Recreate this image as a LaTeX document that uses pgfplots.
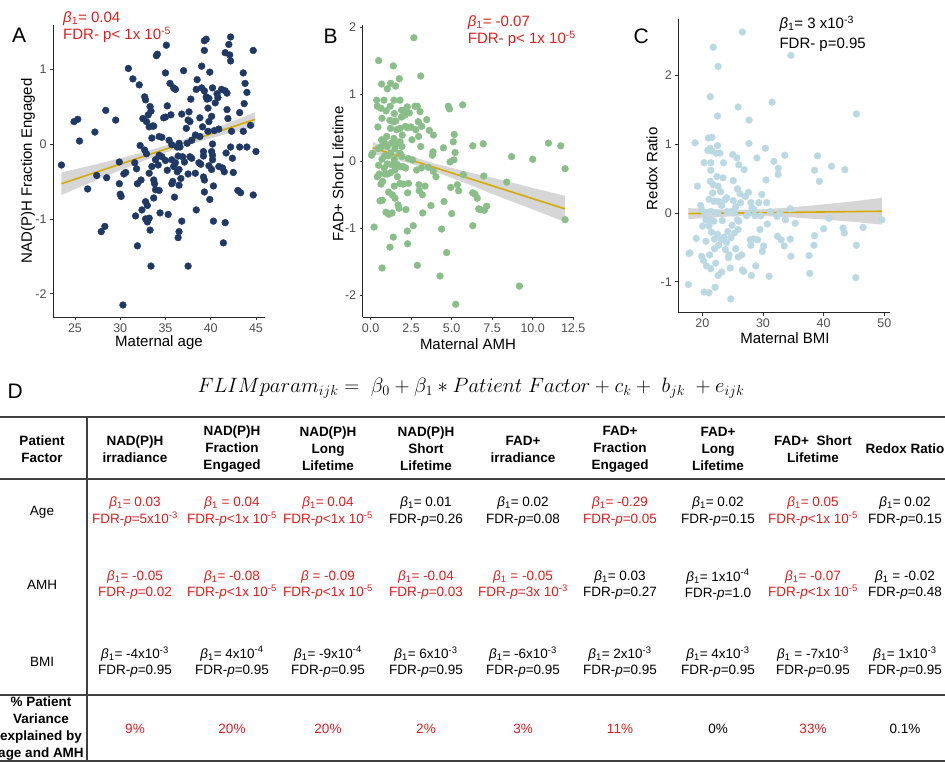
\documentclass[border=0pt]{standalone}
\usepackage{pgfplots}
\pgfplotsset{compat=1.18}
\usepackage{fontspec}
\setmainfont{Liberation Sans}
\definecolor{navy}{RGB}{31,56,100}
\definecolor{sage}{RGB}{137,190,137}
\definecolor{pale}{RGB}{187,217,227}
\definecolor{gold}{RGB}{214,170,0}
\definecolor{band}{RGB}{153,153,153}
\definecolor{fdrred}{RGB}{220,30,30}
\definecolor{ticklab}{RGB}{77,77,77}
\newcommand{\bet}{\textit{β}\textsubscript{1}}
\newcommand{\sci}[1]{\textsuperscript{#1}}
\newcommand{\cell}[5]{\node[align=center, text=#3, font=\fontsize{13.5}{16.5}\selectfont] at (#1, 762-#2) {#4\\#5};}

\pgfplotsset{
  panel/.style={
    scale only axis,
    axis x line*=bottom, axis y line*=left,
    axis line style={line width=0.8pt, black!85},
    tick pos=left,
    tick align=outside,
    major tick length=3pt,
    tick style={black!80, line width=0.7pt},
    tick label style={font=\fontsize{12.5}{14}\selectfont, text=ticklab},
    label style={font=\fontsize{15}{17}\selectfont},
    /pgf/number format/assume math mode=true,
  },
  pts/.style={only marks, mark=*, mark size=3.4pt, color=#1},
  se/.style={fill=band, fill opacity=0.4, draw=none},
  fit/.style={gold, line width=1.6pt},
}

\begin{document}
\begin{tikzpicture}[x=1pt,y=1pt]
\path[use as bounding box] (0,0) rectangle (945,762);

% ---- panel A
\begin{axis}[panel, at={(53pt,445pt)}, anchor=south west, width=212pt, height=292pt,
  xmin=22.57, xmax=46.0, ymin=-2.31, ymax=1.59,
  xtick={25,30,35,40,45}, ytick={-2,-1,0,1},
  xlabel={Maternal age}, ylabel={NAD(P)H Fraction Engaged},
  xlabel style={at={(axis description cs:0.5,-0.087)}, anchor=center},
  ylabel style={at={(axis description cs:-0.118,0.5)}, anchor=center}]
\addplot[pts=navy] coordinates {(23.5,-0.28)(24.9,0.30)(25.3,0.33)(25.5,0.04)(26.4,-0.60)(27.2,0.16)(27.4,-0.42)(28.4,0.45)(28.5,-0.45)(27.9,-1.17)(28.3,-1.10)(29.5,0.32)(29.9,-0.24)(29.9,-0.53)(30.0,-0.67)(30.1,-0.70)(30.3,-2.15)(30.9,1.01)(30.4,-0.40)(30.6,-0.38)(31.4,0.87)(31.6,-0.25)(31.7,-0.96)(31.9,-1.36)(31.9,-0.53)(32.1,0.79)(32.2,-0.02)(31.8,-0.33)(32.3,-0.48)(32.4,-0.88)(32.5,0.34)(32.7,0.63)(32.8,0.59)(32.9,0.30)(33.1,0.39)(32.7,-0.08)(32.9,-0.13)(32.8,-0.77)(33.0,-0.82)(32.8,-1.00)(33.0,-1.04)(33.2,0.23)(33.2,-0.99)(33.3,-1.15)(33.4,-1.63)(33.3,0.50)(33.4,0.44)(33.5,0.08)(33.6,0.24)(33.7,0.24)(33.5,-0.30)(33.7,-0.48)(33.8,-0.53)(33.9,-0.61)(33.7,-0.72)(34.0,1.18)(34.1,1.20)(34.3,-0.15)(34.2,-0.28)(34.3,-0.62)(34.3,0.10)(34.4,-0.92)(34.6,0.09)(34.6,-0.17)(34.8,0.35)(35.0,0.36)(35.0,0.95)(35.1,1.32)(35.2,0.51)(35.0,-0.22)(35.2,-0.35)(35.3,-0.94)(35.4,0.05)(35.5,0.81)(35.6,0.39)(35.7,-0.01)(35.7,-0.21)(35.7,-0.53)(35.8,-0.50)(35.9,-0.30)(35.9,0.75)(36.1,0.73)(36.0,-0.71)(36.1,-0.25)(36.3,-0.04)(36.4,-0.16)(36.3,-0.37)(36.5,-0.34)(36.5,0.01)(36.6,-0.04)(36.5,-0.55)(36.7,-0.46)(36.8,-1.03)(36.5,-1.17)(36.4,-1.25)(36.8,0.40)(37.0,0.98)(36.9,-0.17)(37.1,-0.24)(37.3,0.21)(37.4,0.01)(37.5,-0.40)(37.5,0.32)(37.6,0.43)(37.7,0.30)(37.5,-1.63)(37.8,0.60)(37.7,-0.17)(37.9,-0.19)(37.9,0.05)(38.4,0.73)(38.5,0.86)(38.3,0.12)(38.3,-0.39)(38.4,-0.88)(38.7,-0.25)(38.8,0.35)(38.8,0.10)(38.9,-0.27)(39.0,1.04)(39.0,0.75)(39.1,0.23)(39.2,-0.10)(39.2,-0.16)(39.2,-0.44)(39.3,-0.48)(39.3,-0.64)(39.3,1.25)(39.3,1.38)(39.5,1.40)(39.3,0.71)(39.5,0.63)(39.6,0.60)(39.7,0.48)(39.8,0.30)(39.7,0.17)(39.8,0.61)(39.9,0.96)(39.8,-0.29)(39.9,-0.74)(40.1,0.37)(40.1,-0.10)(40.2,-0.15)(40.2,-0.21)(40.1,-0.34)(40.2,0.75)(40.3,-1.03)(40.3,-0.56)(40.4,0.18)(40.2,0.00)(40.5,0.55)(40.7,0.67)(40.8,0.62)(40.9,0.20)(40.9,-0.30)(41.2,0.73)(41.3,-0.32)(41.4,-1.32)(41.5,-0.37)(41.6,0.71)(41.6,-1.05)(41.7,-0.12)(41.6,1.22)(41.8,0.68)(41.8,0.46)(41.9,0.34)(42.0,1.33)(42.1,1.19)(42.2,1.11)(42.2,1.43)(42.2,-0.04)(42.3,0.17)(42.4,-0.19)(42.5,-0.38)(43.0,-0.62)(43.2,0.42)(43.2,-0.04)(43.3,-0.65)(43.6,0.95)(43.6,0.17)(43.7,0.54)(43.8,0.81)(44.0,0.69)(44.0,-0.04)(44.4,0.25)(44.7,1.25)(44.7,-0.68)(45.0,-0.10)(33.9,-0.21)(33.2,-0.39)};
\addplot[se] coordinates {(23.5,-0.38)(27,-0.28)(30,-0.19)(33,-0.093)(36,0.018)(39,0.143)(42,0.284)(44.9,0.425)(44.9,0.235)(42,0.144)(39,0.043)(36,-0.072)(33,-0.203)(30,-0.35)(27,-0.50)(23.5,-0.68)};
\addplot[fit] coordinates {(23.5,-0.53)(44.9,0.33)};
\end{axis}

% ---- panel B
\begin{axis}[panel, at={(362.7pt,445pt)}, anchor=south west, width=211.3pt, height=292pt,
  xmin=-0.49, xmax=12.55, ymin=-2.32, ymax=2.03,
  xtick={0,2.5,5,7.5,10,12.5}, ytick={-2,-1,0,1,2},
  xticklabel style={/pgf/number format/.cd, fixed, fixed zerofill, precision=1},
  xlabel={Maternal AMH}, ylabel={FAD+ Short Lifetime},
  xlabel style={at={(axis description cs:0.498,-0.092)}, anchor=center},
  ylabel style={at={(axis description cs:-0.117,0.49)}, anchor=center}]
\addplot[pts=sage] coordinates {(0.06,0.09)(0.12,0.12)(0.21,-0.98)(0.37,0.91)(0.41,0.82)(0.49,1.50)(0.45,0.51)(0.49,-0.06)(0.41,-0.23)(0.53,-0.19)(0.58,-0.59)(0.47,0.19)(0.68,1.15)(0.64,0.79)(0.70,0.64)(0.68,0.32)(0.66,0.22)(0.70,0.03)(0.64,-0.34)(0.74,-0.30)(0.72,-0.58)(0.70,-1.59)(0.82,0.91)(0.84,0.28)(0.86,0.08)(0.84,-0.10)(0.88,-0.19)(0.95,-0.76)(0.95,0.75)(1.03,1.08)(0.99,0.37)(1.03,0.22)(1.07,0.08)(1.03,-0.04)(1.05,-0.19)(1.11,-0.46)(1.11,-0.79)(1.19,-1.28)(1.23,1.16)(1.21,0.82)(1.19,0.61)(1.23,0.49)(1.28,0.27)(1.23,0.12)(1.30,-0.05)(1.23,-0.17)(1.34,-0.50)(1.32,-0.77)(1.40,1.42)(1.44,0.91)(1.46,0.71)(1.40,0.59)(1.44,0.34)(1.50,0.19)(1.46,0.03)(1.50,-0.13)(1.46,-0.37)(1.50,-0.55)(1.40,-1.13)(1.54,1.12)(1.56,0.60)(1.60,0.47)(1.65,0.26)(1.65,-0.05)(1.65,-0.23)(1.69,-0.65)(1.75,-0.70)(1.77,1.23)(1.81,0.91)(1.81,0.49)(1.81,0.29)(1.81,0.12)(1.85,-0.08)(1.81,-0.33)(1.91,0.76)(1.91,0.66)(1.95,0.39)(1.93,0.22)(1.93,0.07)(2.02,-0.08)(2.02,-0.34)(2.06,0.76)(2.12,0.69)(2.14,0.52)(2.16,-0.10)(2.18,-0.72)(2.26,0.81)(2.28,0.50)(2.33,0.04)(2.28,-0.47)(2.33,-0.33)(2.26,-1.04)(2.28,-1.23)(2.39,0.72)(2.49,0.51)(2.55,0.32)(2.59,0.02)(2.67,1.84)(2.63,-0.96)(2.74,0.82)(2.78,0.47)(2.84,-0.13)(2.88,0.82)(2.88,-1.55)(2.94,0.59)(2.96,0.37)(2.98,-0.35)(3.00,-0.44)(3.05,0.74)(3.09,1.27)(3.09,0.22)(3.13,-0.10)(3.15,0.52)(3.19,-0.50)(3.21,-0.77)(3.35,-0.37)(3.46,0.62)(3.56,-0.09)(3.62,0.46)(3.72,-0.66)(3.81,0.09)(3.85,0.14)(3.87,0.39)(3.87,-0.15)(4.03,-0.23)(4.28,-1.71)(4.38,-1.01)(4.49,0.20)(4.53,-0.60)(4.69,-1.36)(4.79,0.82)(4.86,0.78)(4.90,-0.01)(4.94,-0.39)(5.00,-0.78)(5.10,0.29)(5.16,0.40)(5.21,0.13)(5.14,0.02)(5.25,-2.13)(5.35,-0.35)(5.43,-0.44)(5.68,0.84)(5.72,-0.20)(6.30,0.23)(6.30,-0.47)(6.30,-0.96)(6.44,-0.49)(6.58,-0.55)(6.67,-0.71)(6.75,-0.72)(6.95,0.26)(6.98,-0.22)(7.02,-0.73)(7.16,-0.67)(8.40,-0.31)(8.70,0.07)(9.18,-1.86)(10.00,0.03)(10.97,0.27)(11.73,0.23)(12.00,-0.11)(12.00,-0.87)};
\addplot[se] coordinates {(0.12,0.29)(1,0.203)(2.5,0.073)(4,-0.037)(6,-0.16)(8,-0.274)(10,-0.397)(12,-0.515)(12,-0.905)(10,-0.717)(8,-0.534)(6,-0.34)(4,-0.157)(2.5,-0.037)(1,0.063)(0.12,0.11)};
\addplot[fit] coordinates {(0.12,0.20)(12,-0.71)};
\end{axis}

% ---- panel C
\begin{axis}[panel, at={(678.3pt,449.3pt)}, anchor=south west, width=211.7pt, height=293.7pt,
  xmin=16.04, xmax=50.94, ymin=-1.45, ymax=2.82,
  xtick={20,30,40,50}, ytick={-1,0,1,2},
  xlabel={Maternal BMI}, ylabel={Redox Ratio},
  xlabel style={at={(axis description cs:0.504,-0.085)}, anchor=center},
  ylabel style={at={(axis description cs:-0.124,0.49)}, anchor=center}]
\addplot[pts=pale] coordinates {(17.7,-1.04)(17.8,-0.59)(17.97,-0.58)(18.8,1.02)(19.0,-0.37)(19.2,0.39)(19.7,0.11)(19.9,0.05)(20.05,-0.19)(19.9,-0.63)(20.2,-0.69)(20.3,-1.15)(20.3,0.73)(20.4,0.0)(20.6,-0.10)(20.6,-0.41)(20.7,-0.77)(20.9,0.91)(21.0,1.09)(21.1,-1.16)(21.1,0.20)(21.1,-0.19)(21.2,-0.61)(21.3,1.69)(21.3,0.94)(21.3,0.46)(21.4,0.62)(21.4,0.73)(21.4,0.02)(21.4,-0.10)(21.5,-0.28)(21.4,-0.81)(21.6,1.10)(21.6,0.90)(21.8,2.41)(21.8,0.41)(21.9,0.17)(21.7,0.29)(21.9,-0.12)(22.0,-0.38)(22.0,-0.52)(22.1,-1.08)(22.2,-0.73)(22.3,0.87)(22.4,0.53)(22.5,1.41)(22.5,0.98)(22.5,0.0)(22.5,-0.31)(22.6,2.13)(22.6,0.39)(22.6,0.17)(22.6,-0.91)(22.7,-0.47)(22.9,0.87)(23.0,0.31)(23.1,-0.39)(23.2,0.11)(23.2,-0.86)(23.3,-0.11)(23.4,0.51)(23.5,0.73)(23.6,-0.35)(23.7,0.19)(23.8,-0.53)(24.0,-0.43)(24.0,0.22)(24.1,0.02)(24.2,-0.27)(24.3,-0.65)(24.4,-0.61)(24.6,-0.80)(24.7,-1.25)(24.7,-0.36)(24.8,0.02)(24.9,-0.18)(25.0,0.85)(25.1,0.47)(25.1,0.18)(25.3,0.0)(25.3,-0.29)(25.5,-0.52)(25.5,0.09)(25.7,0.80)(25.8,0.35)(25.8,-0.10)(25.9,1.54)(26.0,-0.12)(25.9,-0.24)(25.9,-0.64)(26.0,0.70)(26.2,0.28)(26.3,0.15)(26.5,-0.61)(26.6,-0.83)(26.6,2.63)(26.8,-0.85)(26.9,0.63)(27.1,0.24)(27.3,-0.04)(27.5,-0.01)(27.6,0.30)(27.7,1.35)(27.7,1.01)(27.9,-0.39)(28.0,0.15)(28.0,-0.47)(28.1,-0.91)(28.2,0.07)(28.4,-0.38)(28.5,0.05)(28.7,-0.04)(29.0,0.80)(28.8,-0.77)(29.1,-0.39)(29.3,0.15)(29.5,-0.24)(29.6,-0.04)(29.8,0.27)(29.9,-0.56)(30.1,-0.48)(30.4,0.94)(30.5,0.48)(30.6,0.15)(30.7,-0.16)(31.0,-0.92)(31.2,0.02)(31.5,1.61)(31.8,0.75)(32.3,-0.05)(32.4,-0.34)(32.5,0.56)(32.5,0.65)(32.8,0.0)(33.0,-0.39)(33.5,-0.48)(33.6,0.84)(33.7,-0.10)(34.5,0.06)(34.5,-0.38)(34.6,2.29)(34.6,-0.63)(35.3,-0.15)(37.6,-0.62)(37.7,-0.88)(38.4,-0.47)(38.5,-0.33)(38.5,0.62)(39.0,0.83)(39.3,0.46)(40.0,-0.23)(40.9,-0.08)(41.3,0.68)(43.2,-0.22)(43.4,-0.29)(43.5,0.63)(45.3,-0.94)(45.4,-0.47)(45.4,1.44)(46.5,-0.21)(49.6,-0.10)};
\addplot[se] coordinates {(17.7,0.07)(22,0.055)(26,0.045)(30,0.054)(35,0.084)(40,0.125)(45,0.17)(49.6,0.22)(49.6,-0.17)(45,-0.13)(40,-0.095)(35,-0.066)(30,-0.046)(26,-0.045)(22,-0.065)(17.7,-0.09)};
\addplot[fit] coordinates {(17.7,-0.01)(49.6,0.025)};
\end{axis}

% ---- panel letters and annotations
\begin{scope}[every node/.style={anchor=base west, inner sep=0pt}]
\node[font=\fontsize{21}{24}\selectfont] at (12,762-42.7) {A};
\node[font=\fontsize{21}{24}\selectfont] at (323.3,762-43.3) {B};
\node[font=\fontsize{21}{24}\selectfont] at (633.3,762-44) {C};
\node[font=\fontsize{21}{24}\selectfont] at (7.3,762-398.3) {D};
\node[font=\fontsize{15}{18}\selectfont, text=fdrred] at (63,762-22.7) {\bet= 0.04};
\node[font=\fontsize{15}{18}\selectfont, text=fdrred] at (63,762-39.3) {FDR- p< 1x 10\sci{-5}};
\node[font=\fontsize{15}{18}\selectfont, text=fdrred] at (467.7,762-26.7) {\bet= -0.07};
\node[font=\fontsize{15}{18}\selectfont, text=fdrred] at (467.7,762-43.3) {FDR- p< 1x 10\sci{-5}};
\node[font=\fontsize{15}{18}\selectfont] at (779.3,762-28.3) {\bet= 3 x10\sci{-3}};
\node[font=\fontsize{15}{18}\selectfont] at (779.3,762-48.3) {FDR- p=0.95};
\end{scope}

% ---- model equation
\node[font=\fontsize{21}{25}\selectfont] at (471,762-388)
  {$FLIMparam_{ijk} =\ \beta_0 + \beta_1 * Patient\ Factor + c_k +\ b_{jk}\ + e_{ijk}$};

% ---- table rules
\begin{scope}[line width=1.2pt, black!75]
\draw (0,762-417) -- (945,762-417);
\draw (0,762-479) -- (945,762-479);
\draw (0,762-695) -- (945,762-695);
\draw (0,762-761) -- (945,762-761);
\draw (87,762-417) -- (87,762-761);
\end{scope}

% ---- header
\begin{scope}[every node/.style={align=center, font=\bfseries\fontsize{13.5}{17}\selectfont}]
\node at (42,762-449.5) {Patient\\Factor};
\node at (135,762-449.5) {NAD(P)H\\irradiance};
\node at (232,762-449) {NAD(P)H\\Fraction\\Engaged};
\node at (328,762-449) {NAD(P)H\\Long\\Lifetime};
\node at (426,762-449) {NAD(P)H\\Short\\Lifetime};
\node at (523,762-449.5) {FAD+\\irradiance};
\node at (620,762-449) {FAD+\\Fraction\\Engaged};
\node at (718,762-449) {FAD+\\Long\\Lifetime};
\node at (813,762-449.5) {FAD+~~Short\\Lifetime};
\node at (905,762-449) {Redox Ratio};
\node at (41,762-728.5) {\%~Patient\\Variance\\explained by\\age and AMH};
\end{scope}

% ---- row labels
\begin{scope}[every node/.style={font=\fontsize{13.5}{16.5}\selectfont}]
\node at (42,762-512) {Age};
\node at (42,762-585) {AMH};
\node at (42,762-662) {BMI};
\end{scope}

% ---- Age row
\cell{135}{511.5}{fdrred}{\bet= 0.03}{FDR-\textit{p}=5x10\sci{-3}}
\cell{232}{511.5}{fdrred}{\bet\ = 0.04}{FDR-\textit{p}<1x 10\sci{-5}}
\cell{328}{511.5}{fdrred}{\bet= 0.04}{FDR-\textit{p}<1x 10\sci{-5}}
\cell{426}{511.5}{black}{\bet= 0.01}{FDR-\textit{p}=0.26}
\cell{523}{511.5}{black}{\bet= 0.02}{FDR-\textit{p}=0.08}
\cell{620}{511.5}{fdrred}{\bet= -0.29}{FDR-\textit{p}=0.05}
\cell{718}{511.5}{black}{\bet= 0.02}{FDR-\textit{p}=0.15}
\cell{813}{511.5}{fdrred}{\bet= 0.05}{FDR-\textit{p}<1x 10\sci{-5}}
\cell{905}{511.5}{black}{\bet= 0.02}{FDR-\textit{p}=0.15}
% ---- AMH row
\cell{135}{585}{fdrred}{\bet= -0.05}{FDR-\textit{p}=0.02}
\cell{232}{585}{fdrred}{\bet= -0.08}{FDR-\textit{p}<1x 10\sci{-5}}
\cell{328}{585}{fdrred}{\textit{β} = -0.09}{FDR-\textit{p}<1x 10\sci{-5}}
\cell{426}{585}{fdrred}{\bet= -0.04}{FDR-\textit{p}=0.03}
\cell{523}{585}{fdrred}{\bet\ = -0.05}{FDR-\textit{p}=3x 10\sci{-3}}
\cell{620}{585}{black}{\bet= 0.03}{FDR-\textit{p}=0.27}
\cell{718}{585}{black}{\bet= 1x10\sci{-4}}{FDR-\textit{p}=1.0}
\cell{813}{585}{fdrred}{\bet= -0.07}{FDR-\textit{p}<1x 10\sci{-5}}
\cell{905}{585}{black}{\bet\ = -0.02}{FDR-\textit{p}=0.48}
% ---- BMI row
\cell{135}{662}{black}{\bet= -4x10\sci{-3}}{FDR-\textit{p}=0.95}
\cell{232}{662}{black}{\bet= 4x10\sci{-4}}{FDR-\textit{p}=0.95}
\cell{328}{662}{black}{\bet= -9x10\sci{-4}}{FDR-\textit{p}=0.95}
\cell{426}{662}{black}{\bet= 6x10\sci{-3}}{FDR-\textit{p}=0.95}
\cell{523}{662}{black}{\bet= -6x10\sci{-3}}{FDR-\textit{p}=0.95}
\cell{620}{662}{black}{\bet= 2x10\sci{-3}}{FDR-\textit{p}=0.95}
\cell{718}{662}{black}{\bet= 4x10\sci{-3}}{FDR-\textit{p}=0.95}
\cell{813}{662}{black}{\bet\ = -7x10\sci{-3}}{FDR-\textit{p}=0.95}
\cell{905}{662}{black}{\bet= 1x10\sci{-3}}{FDR-\textit{p}=0.95}

% ---- variance row
\begin{scope}[every node/.style={font=\fontsize{13.5}{16.5}\selectfont}]
\node[text=fdrred] at (135,762-729) {9\%};
\node[text=fdrred] at (232,762-729) {20\%};
\node[text=fdrred] at (328,762-729) {20\%};
\node[text=fdrred] at (426,762-729) {2\%};
\node[text=fdrred] at (523,762-729) {3\%};
\node[text=fdrred] at (620,762-729) {11\%};
\node at (718,762-729) {0\%};
\node[text=fdrred] at (813,762-729) {33\%};
\node at (905,762-729) {0.1\%};
\end{scope}
\end{tikzpicture}
\end{document}
